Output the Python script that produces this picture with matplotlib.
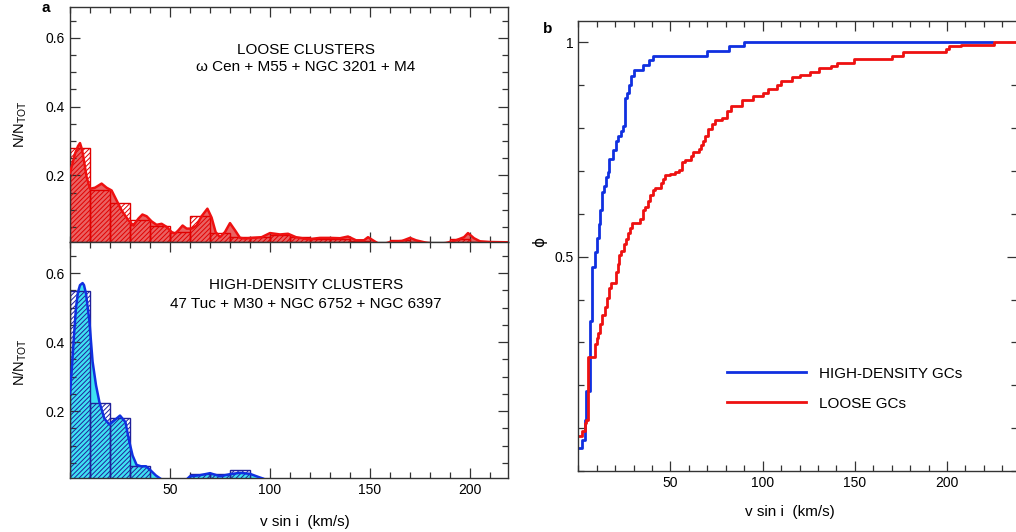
import matplotlib
matplotlib.use('Agg')
import matplotlib.pyplot as plt
import numpy as np
from matplotlib.ticker import MultipleLocator, FixedLocator, FuncFormatter

plt.rcParams['font.family'] = ['Liberation Sans', 'DejaVu Sans']
plt.rcParams['mathtext.default'] = 'regular'
plt.rcParams['hatch.linewidth'] = 0.7

# histogram bins (km/s)
bin_edges = np.arange(0, 230, 10)

# loose clusters: histogram heights per 10 km/s bin
loose_hist = [0.28, 0.158, 0.12, 0.069, 0.054, 0.035, 0.083, 0.032, 0.022, 0.022,
              0.025, 0.02, 0.015, 0.015, 0.01, 0.0, 0.011, 0.005, 0.0, 0.016,
              0.006, 0.006]
# loose clusters: smoothed curve (v sin i, N/Ntot)
loose_kde = [(0, 0.207), (1.5, 0.24), (2.5, 0.263), (4, 0.285), (5, 0.294), (6, 0.275),
             (6.7, 0.253), (8.3, 0.195), (10, 0.161), (12.5, 0.164), (15.8, 0.176),
             (18.3, 0.164), (20.8, 0.156), (23.3, 0.127), (25.8, 0.098), (29.2, 0.069),
             (31.7, 0.054), (34.2, 0.074), (36.2, 0.086), (38.3, 0.081), (40.8, 0.066),
             (43.3, 0.056), (45.8, 0.059), (48.3, 0.05), (50.8, 0.035), (52.5, 0.03),
             (54.2, 0.04), (56.3, 0.054), (58.3, 0.045), (60.8, 0.045), (63.3, 0.054),
             (65.8, 0.081), (68.7, 0.103), (70.8, 0.077), (72.8, 0.035), (75, 0.02),
             (77.5, 0.035), (80, 0.061), (82.5, 0.04), (85, 0.018), (87.5, 0.016),
             (90.8, 0.018), (95.8, 0.02), (100, 0.032), (105, 0.028), (109, 0.03),
             (113, 0.02), (119, 0.014), (125, 0.018), (130, 0.018), (135, 0.017),
             (139, 0.022), (143, 0.011), (147, 0.011), (149, 0.02), (152, 0.009),
             (154, 0.002), (157, 0.0), (160, 0.006), (166, 0.009), (170, 0.018),
             (173, 0.011), (178, 0.004), (182, 0.0), (188, 0.003), (193, 0.011),
             (197, 0.02), (199, 0.032), (202, 0.017), (205, 0.008), (210, 0.006),
             (220, 0.005)]

# high-density clusters
dense_hist = [0.548, 0.223, 0.18, 0.04, 0.0, 0.0, 0.017, 0.017, 0.03, 0.0,
              0.0, 0.0, 0.0, 0.0, 0.0, 0.0, 0.0, 0.0, 0.0, 0.0, 0.0, 0.0]
dense_kde = [(0, 0.25), (1, 0.33), (2, 0.42), (3, 0.5), (4, 0.545), (5, 0.565),
             (6.3, 0.571), (7, 0.565), (8, 0.54), (9.7, 0.46), (11.3, 0.343),
             (13, 0.275), (14.7, 0.226), (17.2, 0.178), (19.7, 0.161), (22.2, 0.173),
             (25, 0.187), (27.7, 0.168), (29.7, 0.11), (31.3, 0.071), (33.3, 0.044),
             (35.5, 0.04), (38, 0.04), (40.5, 0.027), (43, 0.013), (45.5, 0.003),
             (47, 0.0), (58, 0.0), (60, 0.011), (65, 0.014), (70, 0.02), (75, 0.011),
             (80, 0.017), (85, 0.021), (90, 0.018), (94.2, 0.009), (96.7, 0.004),
             (98, 0.0)]

# cumulative distributions (step position, value after step)
dense_cdf_x = [0, 2.1, 3.4, 4.4, 6.1, 7.2, 9.3, 10.2, 11.1, 12.0, 12.9, 14.2, 15.1,
               16.0, 16.9, 18.9, 20.2, 21.5, 22.9, 24.1, 25.2, 26.3, 27.7, 28.8, 30.1,
               35.1, 38.2, 40.6, 69.9, 82, 90.1, 224.6]
dense_cdf_y = [0.054, 0.073, 0.12, 0.186, 0.349, 0.477, 0.511, 0.544, 0.577, 0.608,
               0.65, 0.664, 0.685, 0.698, 0.728, 0.75, 0.769, 0.782, 0.794, 0.806,
               0.87, 0.882, 0.901, 0.922, 0.935, 0.947, 0.958, 0.969, 0.979, 0.991,
               1.0, 1.0]
loose_cdf = [(0, 0.082), (2.1, 0.093), (3.5, 0.112), (4.4, 0.12), (5.0, 0.246),
             (5.35, 0.265), (9.0, 0.296), (9.9, 0.311), (10.8, 0.323), (12.0, 0.342),
             (12.9, 0.365), (14.4, 0.382), (15.3, 0.403), (16.5, 0.426), (17.5, 0.438),
             (20.2, 0.464), (21.3, 0.484), (22.2, 0.503), (23.4, 0.514), (24.7, 0.529),
             (25.9, 0.541), (26.8, 0.556), (27.9, 0.568), (29.2, 0.578), (33.7, 0.588),
             (35.0, 0.61), (36.4, 0.617), (37.7, 0.629), (38.8, 0.644), (40.4, 0.656),
             (41.8, 0.66), (44.6, 0.671), (45.8, 0.682), (47.3, 0.69), (49.8, 0.694),
             (52.7, 0.698), (54.8, 0.702), (56.3, 0.721), (58.1, 0.726), (61.4, 0.736),
             (62.1, 0.744), (65.3, 0.751), (66.8, 0.761), (67.7, 0.77), (68.9, 0.782),
             (70.4, 0.797), (72.6, 0.809), (74.4, 0.818), (78.0, 0.824), (80.8, 0.839),
             (82.6, 0.852), (89, 0.866), (94.5, 0.874), (100.3, 0.883), (103, 0.891),
             (107.7, 0.901), (110.1, 0.909), (116, 0.919), (120.2, 0.925), (125.7, 0.932),
             (130.5, 0.94), (136.9, 0.946), (140.1, 0.952), (149.5, 0.961), (170.3, 0.969),
             (176.3, 0.977), (199.3, 0.984), (201.1, 0.991), (207.4, 0.995), (225.5, 1.0),
             (240, 1.0)]

RED = '#ee1111'
BLUE = '#1030e0'
SPINE = '#333333'

fig = plt.figure(figsize=(10.16, 5.32), dpi=100)
ax1 = fig.add_axes([0.0689, 0.5451, 0.4311, 0.4417])
ax2 = fig.add_axes([0.0689, 0.1015, 0.4311, 0.4436])
ax3 = fig.add_axes([0.5692, 0.1147, 0.4318, 0.8459])


def style(ax):
    for s in ax.spines.values():
        s.set_color(SPINE)
        s.set_linewidth(1.0)
    ax.tick_params(which='both', direction='in', top=True, right=True,
                   colors=SPINE, labelcolor='black', labelsize=10, width=0.9)
    ax.tick_params(which='major', length=7)
    ax.tick_params(which='minor', length=4)


def hist_panel(ax, hist, kde, face, line, hatchcol):
    kx = [p[0] for p in kde]
    ky = [p[1] for p in kde]
    ax.fill_between(kx, 0, ky, facecolor=face, edgecolor='none', lw=0, zorder=1)
    ax.bar(bin_edges[:-1], hist, width=10, align='edge', fill=False,
           hatch='///////', edgecolor=hatchcol, linewidth=1.0, zorder=2)
    ax.plot(kx, ky, color=line, lw=1.8, zorder=3)
    ax.set_xlim(0, 219)
    ax.set_ylim(0.006, 0.69)
    ax.xaxis.set_major_locator(FixedLocator([50, 100, 150, 200]))
    ax.xaxis.set_minor_locator(MultipleLocator(10))
    ax.yaxis.set_major_locator(FixedLocator([0.2, 0.4, 0.6]))
    ax.yaxis.set_minor_locator(MultipleLocator(0.05))
    style(ax)


hist_panel(ax1, loose_hist, loose_kde, '#ea6262', RED, '#e00000')
ax1.tick_params(labelbottom=False)
ax1.text(0.539, 0.817, 'LOOSE CLUSTERS', transform=ax1.transAxes,
         ha='center', va='center', fontsize=11)
ax1.text(0.539, 0.746, 'ω Cen + M55 + NGC 3201 + M4', transform=ax1.transAxes,
         ha='center', va='center', fontsize=11)

hist_panel(ax2, dense_hist, dense_kde, '#3ee2f2', BLUE, '#20209a')
ax2.text(0.539, 0.818, 'HIGH-DENSITY CLUSTERS', transform=ax2.transAxes,
         ha='center', va='center', fontsize=11)
ax2.text(0.539, 0.737, '47 Tuc + M30 + NGC 6752 + NGC 6397', transform=ax2.transAxes,
         ha='center', va='center', fontsize=11)

# cumulative panel
ax3.step(dense_cdf_x, dense_cdf_y, where='post', color=BLUE, lw=2.0,
         label='HIGH-DENSITY GCs')
ax3.step([p[0] for p in loose_cdf], [p[1] for p in loose_cdf], where='post',
         color=RED, lw=2.0, label='LOOSE GCs')
ax3.set_xlim(0, 238)
ax3.set_ylim(0, 1.05)
ax3.xaxis.set_major_locator(FixedLocator([50, 100, 150, 200]))
ax3.xaxis.set_minor_locator(MultipleLocator(10))
ax3.yaxis.set_major_locator(FixedLocator([0.5, 1.0]))
ax3.yaxis.set_minor_locator(MultipleLocator(0.1))
ax3.yaxis.set_major_formatter(FuncFormatter(lambda v, p: '%g' % v))
style(ax3)
ax3.legend(loc='upper left', bbox_to_anchor=(0.339, 0.232), frameon=False,
           fontsize=11, handlelength=5.2, handletextpad=0.8, labelspacing=1.05,
           borderpad=0, borderaxespad=0)

# labels
fig.text(0.0197, 1 - 124 / 532, 'N/N$_{TOT}$', rotation=90, ha='center', va='center',
         fontsize=10.5)
fig.text(0.0197, 1 - 362 / 532, 'N/N$_{TOT}$', rotation=90, ha='center', va='center',
         fontsize=10.5)
fig.text(305 / 1016, 1 - 522 / 532, 'v sin i  (km/s)', ha='center', va='center',
         fontsize=11)
fig.text(790 / 1016, 1 - 512 / 532, 'v sin i  (km/s)', ha='center', va='center',
         fontsize=11)
fig.text(540 / 1016, 1 - 242 / 532, 'ϕ', rotation=90, ha='center', va='center',
         fontsize=11, family=['DejaVu Sans'])
fig.text(46 / 1016, 1 - 8 / 532, 'a', ha='center', va='center', fontsize=11,
         fontweight='bold')
fig.text(548 / 1016, 1 - 29 / 532, 'b', ha='center', va='center', fontsize=11,
         fontweight='bold')

fig.savefig('out.png', dpi=100)
